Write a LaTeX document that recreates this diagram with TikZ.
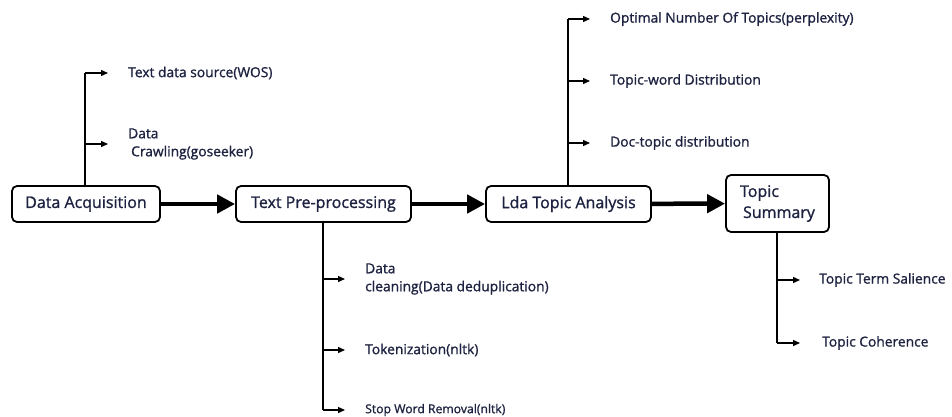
\documentclass[tikz,border=0pt]{standalone}
\usepackage{fontspec}
\setmainfont{Open Sans}[FakeBold=1.2]
\usetikzlibrary{arrows.meta}
\definecolor{inkblue}{HTML}{1D2240}
\begin{document}
\begin{tikzpicture}[x=1pt,y=-1pt]
	\tikzset{stage/.style = {draw, line width=1.8pt, rounded corners=5pt, text=inkblue, font=\fontsize{16}{21}\selectfont, inner sep=0pt}}
	\tikzset{item/.style = {anchor=west, text=inkblue, font=\fontsize{13.8}{18}\selectfont, align=left, inner sep=0pt}}
	\tikzset{flow/.style = {-{Triangle[length=18pt,width=18pt]}, line width=4.5pt}}
	\tikzset{twig/.style = {-{Triangle[length=7pt,width=6pt]}, line width=1.3pt, shorten >=20pt}}
	\useasboundingbox (0,0) rectangle (952,417);
	% Main stages
	\node[stage, minimum width=148pt, minimum height=36pt] (acq) at (86,204) {Data Acquisition};
	\node[stage, minimum width=175pt, minimum height=36pt] (pre) at (323.5,204) {Text Pre-processing};
	\node[stage, minimum width=165pt, minimum height=36pt] (lda) at (568.5,204) {Lda Topic Analysis};
	\node[stage, minimum width=103pt, minimum height=57pt, align=left] (sum) at (777.5,203.5) {Topic\\ \hspace{3pt}Summary};
	\draw[flow] (acq) -- (pre);
	\draw[flow] (pre) -- (lda);
	\draw[flow] (lda) -- (sum);
	% Data Acquisition branches
	\node[item] (wos) at (128,73) {Text data source(WOS)};
	\node[item] (crawl) at (128,144) {Data\\ \hspace{3pt}Crawling(goseeker)};
	\coordinate (acqtop) at (85,73);
	\coordinate (acqmid) at (85,144);
	\draw[line width=1.3pt] (acq.north -| acqtop) -- (acqtop);
	\draw[twig] (acqtop) -- (wos.west);
	\draw[twig] (acqmid) -- (crawl.west);
	% Text Pre-processing branches
	\node[item] (clean) at (365,279) {Data\\cleaning(Data deduplication)};
	\node[item] (token) at (365,350) {Tokenization(nltk)};
	\node[item, font=\fontsize{12.2}{14}\selectfont] (stop) at (365,410) {Stop Word Removal(nltk)};
	\coordinate (precln) at (323,279);
	\coordinate (pretok) at (323,350);
	\coordinate (prebot) at (323,410);
	\draw[line width=1.3pt] (pre.south -| prebot) -- (prebot);
	\draw[twig] (precln) -- (clean.west);
	\draw[twig] (pretok) -- (token.west);
	\draw[twig] (prebot) -- (stop.west);
	% Lda Topic Analysis branches
	\node[item] (optim) at (610,19) {Optimal Number Of Topics(perplexity)};
	\node[item] (tword) at (610,81) {Topic-word Distribution};
	\node[item] (dtopic) at (610,143) {Doc-topic distribution};
	\coordinate (ldatop) at (568,19);
	\coordinate (ldawrd) at (568,81);
	\coordinate (ldadoc) at (568,143);
	\draw[line width=1.3pt] (lda.north -| ldatop) -- (ldatop);
	\draw[twig] (ldatop) -- (optim.west);
	\draw[twig] (ldawrd) -- (tword.west);
	\draw[twig] (ldadoc) -- (dtopic.west);
	% Topic Summary branches
	\node[item] (sal) at (819,280) {Topic Term Salience};
	\node[item] (coh) at (822,343) {Topic Coherence};
	\coordinate (sumsal) at (777,280);
	\coordinate (sumbot) at (777,343);
	\draw[line width=1.3pt] (sum.south -| sumbot) -- (sumbot);
	\draw[twig, shorten >=19pt] (sumsal) -- (sal.west);
	\draw[twig, shorten >=22pt] (sumbot) -- (coh.west);
\end{tikzpicture}
\end{document}
